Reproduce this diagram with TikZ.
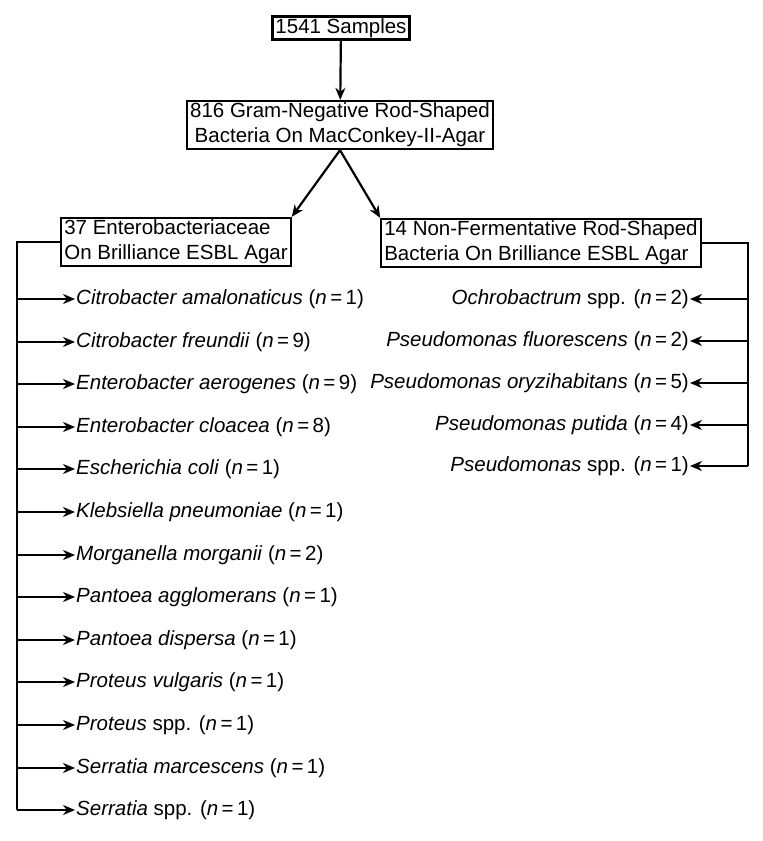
\documentclass[tikz,border=0pt]{standalone}
\usepackage{fontspec}
\setmainfont{Liberation Sans}
\usetikzlibrary{arrows.meta}
\tikzstyle{box} = [rectangle, 
draw=black, 
line width=2.2pt, 
inner xsep=3pt, 
inner ysep=2pt, 
font=\fontsize{20.5}{25}\selectfont]
\tikzstyle{leaf} = [inner sep=1pt, 
font=\fontsize{20.5}{25}\selectfont]
\tikzstyle{arrow} = [line width=2.2pt,->,>={Stealth[length=12pt,width=10pt]}]
\tikzstyle{line} = [line width=2.2pt]

\begin{document}
\begin{tikzpicture}[x=1pt,y=-1pt]
\useasboundingbox (0,0) rectangle (763,841);

\node (samp) [box] at (341,28) {1541 Samples};
\node (gram) [box, align=center] at (340,125) {816 Gram-Negative Rod-Shaped\\ 
Bacteria On MacConkey-II-Agar};
\node (ent) [box, align=left] at (176,242) {37 Enterobacteriaceae\\ 
On Brilliance ESBL Agar};
\node (nonf) [box, align=left] at (541,243) {14 Non-Fermentative Rod-Shaped\\ 
Bacteria On Brilliance ESBL Agar};

% Enterobacteriaceae
\node (cama) [leaf, anchor=west] at (75,299) {\textit{Citrobacter amalonaticus} (\textit{n}\,=\,1)};
\node (cfre) [leaf, anchor=west] at (75,342) {\textit{Citrobacter freundii} (\textit{n}\,=\,9)};
\node (eaer) [leaf, anchor=west] at (75,384) {\textit{Enterobacter aerogenes} (\textit{n}\,=\,9)};
\node (eclo) [leaf, anchor=west] at (75,427) {\textit{Enterobacter cloacea} (\textit{n}\,=\,8)};
\node (ecol) [leaf, anchor=west] at (75,469) {\textit{Escherichia coli} (\textit{n}\,=\,1)};
\node (kpne) [leaf, anchor=west] at (75,512) {\textit{Klebsiella pneumoniae} (\textit{n}\,=\,1)};
\node (mmor) [leaf, anchor=west] at (75,555) {\textit{Morganella morganii} (\textit{n}\,=\,2)};
\node (pagg) [leaf, anchor=west] at (75,597) {\textit{Pantoea agglomerans} (\textit{n}\,=\,1)};
\node (pdis) [leaf, anchor=west] at (75,640) {\textit{Pantoea dispersa} (\textit{n}\,=\,1)};
\node (pvul) [leaf, anchor=west] at (75,682) {\textit{Proteus vulgaris} (\textit{n}\,=\,1)};
\node (pspp) [leaf, anchor=west] at (75,725) {\textit{Proteus} spp. (\textit{n}\,=\,1)};
\node (smar) [leaf, anchor=west] at (75,768) {\textit{Serratia marcescens} (\textit{n}\,=\,1)};
\node (sspp) [leaf, anchor=west] at (75,810) {\textit{Serratia} spp. (\textit{n}\,=\,1)};

% non-fermentative
\node (ospp) [leaf, anchor=east] at (690,299) {\textit{Ochrobactrum} spp. (\textit{n}\,=\,2)};
\node (pflu) [leaf, anchor=east] at (690,341) {\textit{Pseudomonas fluorescens} (\textit{n}\,=\,2)};
\node (pory) [leaf, anchor=east] at (690,383) {\textit{Pseudomonas oryzihabitans} (\textit{n}\,=\,5)};
\node (pput) [leaf, anchor=east] at (690,425) {\textit{Pseudomonas putida} (\textit{n}\,=\,4)};
\node (psspp) [leaf, anchor=east] at (690,466) {\textit{Pseudomonas} spp. (\textit{n}\,=\,1)};

\coordinate (lbus) at (17,0);
\coordinate (rbus) at (748,0);

\draw [arrow] (samp) -- (gram);
\draw [arrow] (gram.south) -- (ent.north east);
\draw [arrow] (gram.south) -- (nonf.north west);

\draw [line] (ent.west) -- (ent.west -| lbus) -- (sspp.west -| lbus);
\draw [arrow] (cama.west -| lbus) -- (cama.west);
\draw [arrow] (cfre.west -| lbus) -- (cfre.west);
\draw [arrow] (eaer.west -| lbus) -- (eaer.west);
\draw [arrow] (eclo.west -| lbus) -- (eclo.west);
\draw [arrow] (ecol.west -| lbus) -- (ecol.west);
\draw [arrow] (kpne.west -| lbus) -- (kpne.west);
\draw [arrow] (mmor.west -| lbus) -- (mmor.west);
\draw [arrow] (pagg.west -| lbus) -- (pagg.west);
\draw [arrow] (pdis.west -| lbus) -- (pdis.west);
\draw [arrow] (pvul.west -| lbus) -- (pvul.west);
\draw [arrow] (pspp.west -| lbus) -- (pspp.west);
\draw [arrow] (smar.west -| lbus) -- (smar.west);
\draw [arrow] (sspp.west -| lbus) -- (sspp.west);

\draw [line] (nonf.east) -- (nonf.east -| rbus) -- (psspp.east -| rbus);
\draw [arrow] (ospp.east -| rbus) -- (ospp.east);
\draw [arrow] (pflu.east -| rbus) -- (pflu.east);
\draw [arrow] (pory.east -| rbus) -- (pory.east);
\draw [arrow] (pput.east -| rbus) -- (pput.east);
\draw [arrow] (psspp.east -| rbus) -- (psspp.east);

\end{tikzpicture}
\end{document}
